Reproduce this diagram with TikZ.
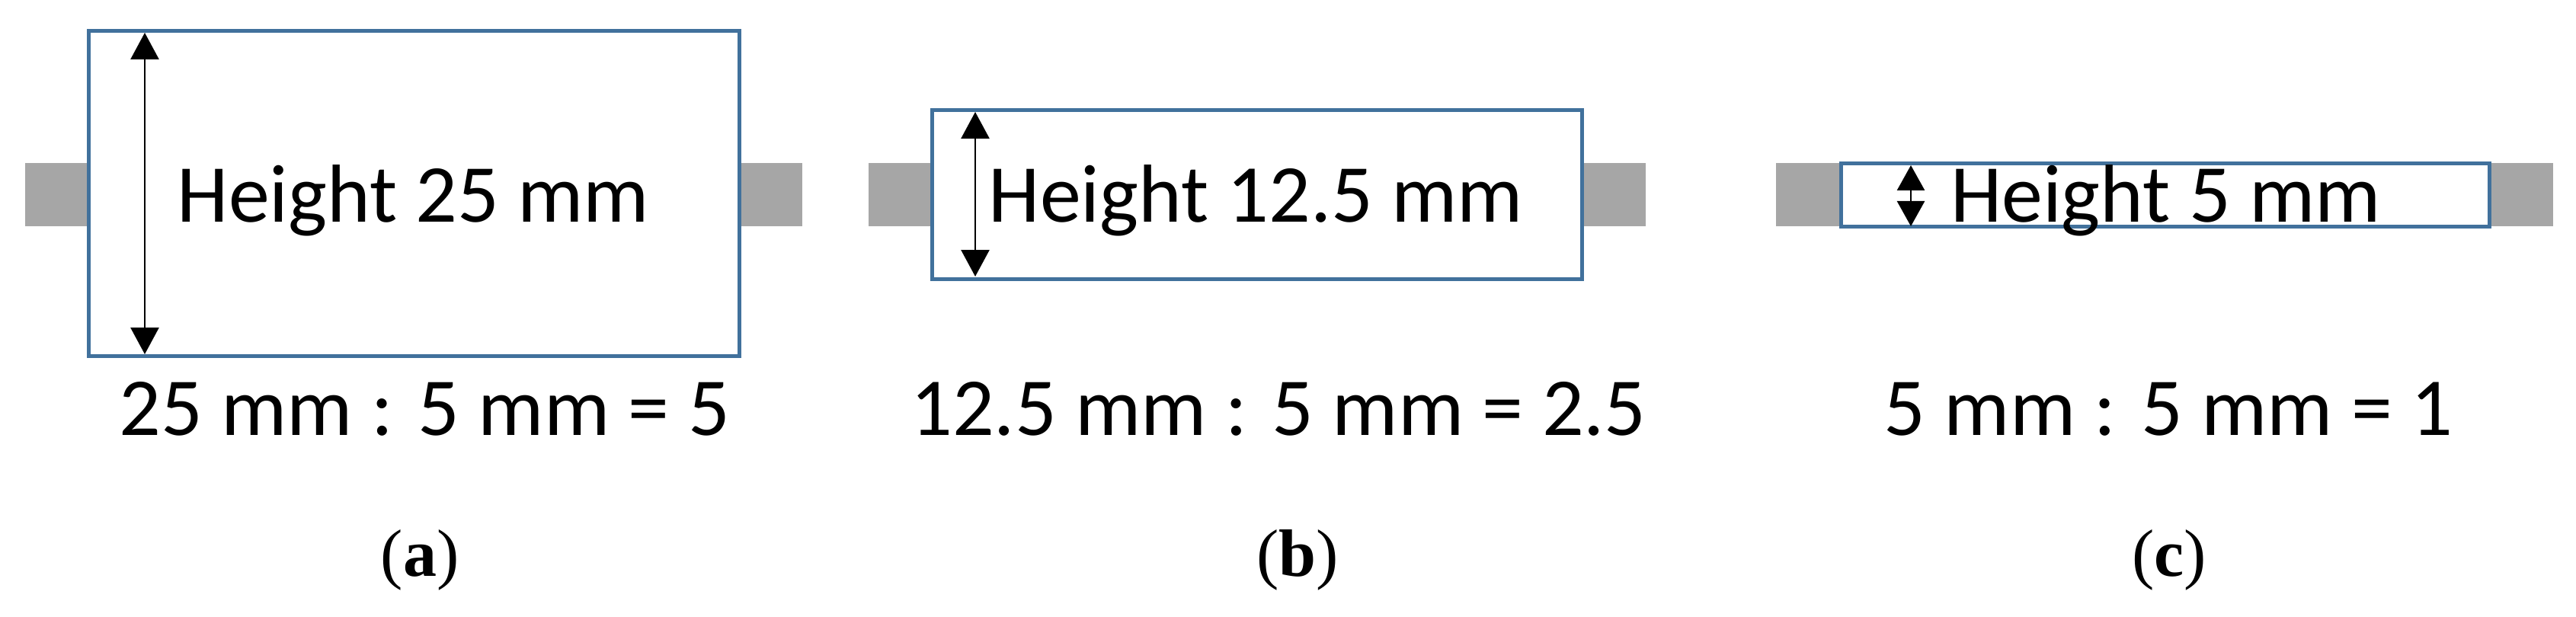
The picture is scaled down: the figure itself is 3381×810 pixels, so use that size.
\documentclass[tikz,border=0pt]{standalone}
\usepackage{fontspec}
\setmainfont{Carlito}
\newfontfamily\capfont{Liberation Serif}
\usetikzlibrary{arrows.meta}
\definecolor{boxblue}{RGB}{65,113,156}
\definecolor{bargray}{RGB}{166,166,166}
\tikzset{
  bar/.style={fill=bargray, draw=none},
  sample/.style={draw=boxblue, line width=5pt, fill=white, rectangle, inner sep=0pt},
  dimarrow/.style={line width=2.7pt, {Triangle[length=35pt,width=37pt]}-{Triangle[length=35pt,width=37pt]}},
  smallarrow/.style={line width=2.7pt, {Triangle[length=33pt,width=36pt]}-{Triangle[length=33pt,width=36pt]}},
  lbl/.style={font=\fontsize{108}{130}\selectfont, anchor=base, inner sep=0pt},
  ratio/.style={font=\fontsize{108}{130}\selectfont, anchor=base, inner sep=0pt},
  captxt/.style={font=\capfont\fontsize{88}{100}\selectfont, anchor=base, inner sep=0pt},
}
\begin{document}
\begin{tikzpicture}[x=1pt,y=-1pt]
\useasboundingbox[fill=white] (0,0) rectangle (3381,810);
% bars
\fill[bar] (33,214) rectangle (1053,297);
\fill[bar] (1140,214) rectangle (2160,297);
\fill[bar] (2331,214) rectangle (3351,297);
% boxes
\node[sample, minimum width=854pt, minimum height=427pt] (boxa) at (543.5,254) {};
\node[sample, minimum width=853.5pt, minimum height=221.5pt] (boxb) at (1649.75,255.25) {};
\node[sample, minimum width=850.5pt, minimum height=83pt] (boxc) at (2841.75,256) {};
% arrows
\coordinate (a1) at (190,43);
\coordinate (a2) at (190,465);
\coordinate (b1) at (1280,147);
\coordinate (b2) at (1280,363);
\coordinate (c1) at (2508,217);
\coordinate (c2) at (2508,297);
\draw[dimarrow] (a1) -- (a2);
\draw[dimarrow] (b1) -- (b2);
\draw[smallarrow] (c1) -- (c2);
% texts
\node[lbl] (ta) at (542.5,292) {Height 25 mm};
\node[lbl] (tb) at (1648.5,292) {Height 12.5 mm};
\node[lbl] (tc) at (2842.5,292) {Height 5 mm};
\node[ratio] (ra) at (557,571) {25 mm : 5 mm = 5};
\node[ratio] (rb) at (1678,571) {12.5 mm : 5 mm = 2.5};
\node[ratio] (rc) at (2846,571) {5 mm : 5 mm = 1};
\node[captxt] (ca) at (551,756) {(\textbf{a})};
\node[captxt] (cb) at (1703,756) {(\textbf{b})};
\node[captxt] (cc) at (2847,756) {(\textbf{c})};
\end{tikzpicture}
\end{document}
